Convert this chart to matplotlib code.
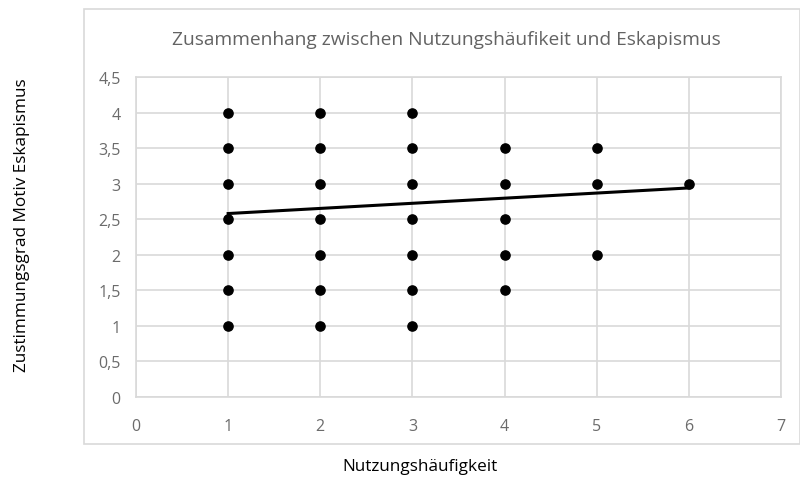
import matplotlib.pyplot as plt
from matplotlib.patches import Rectangle

# Nutzungshäufigkeit vs. Zustimmungsgrad (unique points visible in chart)
x_vals = [1, 1, 1, 1, 1, 1, 1,
          2, 2, 2, 2, 2, 2, 2,
          3, 3, 3, 3, 3, 3, 3,
          4, 4, 4, 4, 4,
          5, 5, 5,
          6]
y_vals = [1, 1.5, 2, 2.5, 3, 3.5, 4,
          1, 1.5, 2, 2.5, 3, 3.5, 4,
          1, 1.5, 2, 2.5, 3, 3.5, 4,
          1.5, 2, 2.5, 3, 3.5,
          2, 3, 3.5,
          3]

# linear trendline endpoints
trend_x = [1, 6]
trend_y = [2.58, 2.94]

x_ticks = [0, 1, 2, 3, 4, 5, 6, 7]
y_ticks = [0, 0.5, 1, 1.5, 2, 2.5, 3, 3.5, 4, 4.5]

plt.rcParams['font.family'] = ['Open Sans', 'DejaVu Sans']

fig = plt.figure(figsize=(8, 4.81), dpi=100)
ax = fig.add_axes([136 / 800, 1 - 398 / 481, (781 - 136) / 800, (398 - 78) / 481])

# chart area border
fig.patches.append(Rectangle((84 / 800, 1 - 445 / 481), 716 / 800, 435 / 481,
                             transform=fig.transFigure, fill=False,
                             edgecolor='#d9d9d9', linewidth=1.2))

ax.plot(trend_x, trend_y, color='black', linewidth=2.2, zorder=3)
ax.scatter(x_vals, y_vals, s=44, color='black', zorder=4)

ax.set_xlim(0, 7)
ax.set_ylim(0, 4.5)
ax.set_xticks(x_ticks)
ax.set_yticks(y_ticks)
ax.set_xticklabels([str(v) for v in x_ticks])
ax.set_yticklabels([str(v).replace('.', ',') if v % 1 else str(int(v)) for v in y_ticks])
ax.grid(True, color='#d9d9d9', linewidth=1.2)
ax.set_axisbelow(True)
for s in ax.spines.values():
    s.set_color('#d9d9d9')
    s.set_linewidth(1.2)
ax.tick_params(length=0, colors='#6b6b6b', labelsize=11.5)
ax.tick_params(axis='x', pad=15)
ax.tick_params(axis='y', pad=11)

fig.text(446 / 800, 1 - 40 / 481, 'Zusammenhang zwischen Nutzungshäufikeit und Eskapismus',
         ha='center', va='center', fontsize=13.8, color='#636363')
fig.text(420 / 800, 1 - 467 / 481, 'Nutzungshäufigkeit',
         ha='center', va='center', fontsize=12.3, color='black')
fig.text(22 / 800, 1 - 225 / 481, 'Zustimmungsgrad Motiv Eskapismus',
         ha='center', va='center', rotation=90, fontsize=12.3, color='black')

fig.savefig('out.png', dpi=100)
